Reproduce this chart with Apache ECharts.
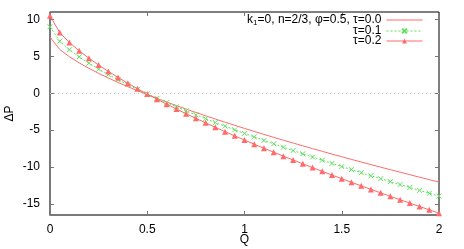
<!DOCTYPE html>
<html>
<head>
<meta charset="utf-8">
<script src="https://cdn.jsdelivr.net/npm/echarts@6/dist/echarts.min.js"></script>
<style>
html, body { margin: 0; padding: 0; background: #fff; }
#chart { width: 464px; height: 249px; }
</style>
</head>
<body>
<div id="chart"></div>
<script>
// Q values (every 0.05 from 0 to 2)
const qValues = [0, 0.05, 0.1, 0.15, 0.2, 0.25, 0.3, 0.35, 0.4, 0.45, 0.5, 0.55, 0.6, 0.65, 0.7, 0.75, 0.8, 0.85, 0.9, 0.95,
    1, 1.05, 1.1, 1.15, 1.2, 1.25, 1.3, 1.35, 1.4, 1.45, 1.5, 1.55, 1.6, 1.65, 1.7, 1.75, 1.8, 1.85, 1.9, 1.95, 2]

// ΔP, tau = 0.0
const dpTau0 = [7.60, 5.92, 4.94, 4.11, 3.37, 2.69, 2.06, 1.46, 0.88, 0.34, -0.19, -0.70, -1.20, -1.68, -2.15, -2.61, -3.06, -3.50, -3.93, -4.35,
    -4.77, -5.18, -5.58, -5.98, -6.37, -6.75, -7.13, -7.51, -7.88, -8.25, -8.61, -8.97, -9.32, -9.67, -10.02, -10.36, -10.70, -11.04, -11.38, -11.71, -12.04]
// ΔP, tau = 0.1
const dpTau1 = [9.00, 7.04, 5.89, 4.92, 4.06, 3.26, 2.52, 1.82, 1.16, 0.51, -0.10, -0.70, -1.28, -1.84, -2.39, -2.93, -3.45, -3.97, -4.47, -4.96,
    -5.45, -5.93, -6.40, -6.86, -7.32, -7.77, -8.21, -8.65, -9.08, -9.51, -9.94, -10.35, -10.77, -11.18, -11.58, -11.98, -12.38, -12.78, -13.17, -13.55, -13.94]
// ΔP, tau = 0.2
const dpTau2 = [10.50, 8.21, 6.87, 5.74, 4.74, 3.81, 2.95, 2.13, 1.35, 0.60, -0.12, -0.81, -1.49, -2.14, -2.78, -3.41, -4.02, -4.62, -5.21, -5.78,
    -6.35, -6.91, -7.46, -7.99, -8.53, -9.05, -9.57, -10.08, -10.59, -11.09, -11.58, -12.07, -12.55, -13.03, -13.50, -13.97, -14.43, -14.89, -15.35, -15.80, -16.25]

const yTicks = [-15, -10, -5, 0, 5, 10]

const seriesNames = ['k1=0, n=2/3, φ=0.5, τ=0.0', 'τ=0.1', 'τ=0.2']

const RED = '#ff6a6a'
const GREEN = '#5ee05e'
const FONT = 'Liberation Sans'

const pairs = arr => qValues.map((q, i) => [q, arr[i]])

const chart = echarts.init(document.getElementById('chart'))

const legendBase = {
    right: 41,
    orient: 'vertical',
    align: 'right',
    padding: 0,
    itemWidth: 36,
    itemHeight: 6,
    itemGap: 0,
    lineStyle: { width: 1 },
    textStyle: {
        fontFamily: FONT,
        fontSize: 12,
        color: '#000',
        rich: {
            sub: { fontFamily: FONT, fontSize: 8, color: '#000', padding: [6, 0, 0, 0] }
        }
    },
    formatter: name => name.replace('k1', 'k{sub|1}')
}

const option = {
    animation: false,
    grid: {
        left: 50, right: 25, top: 12, bottom: 34,
        outerBoundsMode: 'none',
        show: true,
        borderColor: '#000',
        borderWidth: 1
    },
    legend: [
        Object.assign({}, legendBase, { top: 14, data: [seriesNames[0]], itemStyle: { opacity: 0 } }),
        Object.assign({}, legendBase, { top: 25, data: [seriesNames[1]] }),
        Object.assign({}, legendBase, { top: 35, data: [seriesNames[2]] })
    ],
    xAxis: [
        {
            type: 'value', min: 0, max: 2, interval: 0.5,
            name: 'Q', nameLocation: 'middle', nameGap: 19, nameMoveOverlap: false,
            nameTextStyle: { fontFamily: FONT, fontSize: 12, color: '#000' },
            axisLine: { show: true, onZero: false, lineStyle: { color: '#777', width: 1.5 } },
            axisTick: { show: true, inside: true, length: 4, lineStyle: { color: '#777' } },
            axisLabel: { fontFamily: FONT, fontSize: 12, color: '#000', margin: 9 },
            splitLine: { show: false }
        },
        {
            type: 'value', min: 0, max: 2, interval: 0.5, position: 'top',
            axisLine: { show: false, onZero: false },
            axisTick: { show: true, inside: true, length: 4, lineStyle: { color: '#777' } },
            axisLabel: { show: false },
            splitLine: { show: false }
        }
    ],
    yAxis: [
        {
            type: 'value', min: -16.5, max: 11,
            name: 'ΔP', nameLocation: 'middle', nameGap: 34, nameRotate: 90,
            nameMoveOverlap: false,
            nameTextStyle: { fontFamily: FONT, fontSize: 12, color: '#000' },
            axisLine: { show: true, onZero: false, lineStyle: { color: '#777', width: 1.5 } },
            axisTick: { show: true, inside: true, length: 4, customValues: yTicks, lineStyle: { color: '#777' } },
            axisLabel: { fontFamily: FONT, fontSize: 12, color: '#000', margin: 10, customValues: yTicks },
            splitLine: { show: false }
        },
        {
            type: 'value', min: -16.5, max: 11, position: 'right',
            axisLine: { show: false, onZero: false },
            axisTick: { show: true, inside: true, length: 4, customValues: yTicks, lineStyle: { color: '#777' } },
            axisLabel: { show: false, customValues: yTicks },
            splitLine: { show: false }
        }
    ],
    series: [
        {
            name: seriesNames[0],
            type: 'line',
            data: pairs(dpTau0),
            symbol: 'none',
            lineStyle: { color: RED, width: 1 },
            itemStyle: { color: RED },
            markLine: {
                silent: true,
                symbol: 'none',
                label: { show: false },
                lineStyle: { color: '#c8c8c8', type: [1, 3], width: 1 },
                data: [{ yAxis: 0 }]
            }
        },
        {
            name: seriesNames[1],
            type: 'line',
            data: pairs(dpTau1),
            symbol: 'path://M0,0L10,10M10,0L0,10',
            symbolSize: 5,
            lineStyle: { color: GREEN, width: 1, type: [2, 2] },
            itemStyle: { color: 'rgba(0,0,0,0)', borderColor: GREEN, borderWidth: 1 }
        },
        {
            name: seriesNames[2],
            type: 'line',
            data: pairs(dpTau2),
            symbol: 'triangle',
            symbolSize: 6,
            lineStyle: { color: RED, width: 1 },
            itemStyle: { color: RED }
        }
    ]
}

chart.setOption(option)
</script>
</body>
</html>
